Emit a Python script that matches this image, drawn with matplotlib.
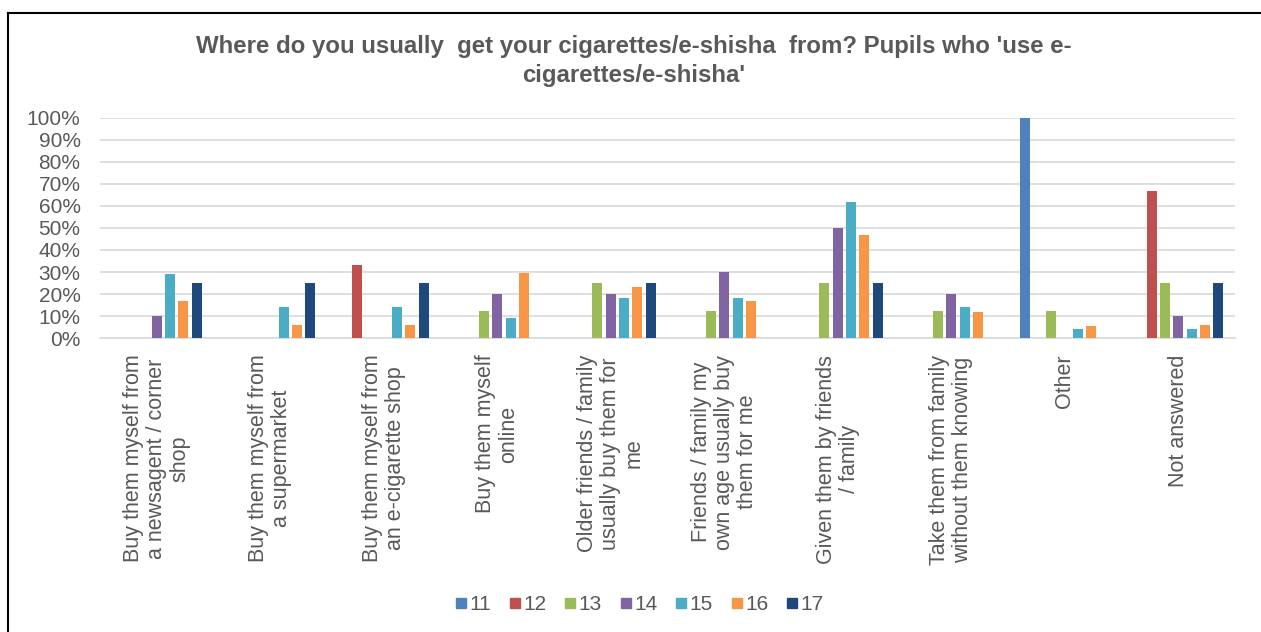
import numpy as np
import matplotlib.pyplot as plt
from matplotlib.lines import Line2D

plt.rcParams['font.family'] = ['Liberation Sans', 'DejaVu Sans']

categories = [
    'Buy them myself from\na newsagent / corner\nshop',
    'Buy them myself from\na supermarket',
    'Buy them myself from\nan e-cigarette shop',
    'Buy them myself\nonline',
    'Older friends / family\nusually buy them for\nme',
    'Friends / family my\nown age usually buy\nthem for me',
    'Given them by friends\n/ family',
    'Take them from family\nwithout them knowing',
    'Other',
    'Not answered',
]
ages = ['11', '12', '13', '14', '15', '16', '17']

age11 = [0, 0, 0, 0, 0, 0, 0, 0, 100, 0]
age12 = [0, 0, 33.3, 0, 0, 0, 0, 0, 0, 66.7]
age13 = [0, 0, 0, 12.5, 25, 12.5, 25, 12.5, 12.5, 25]
age14 = [10, 0, 0, 20, 20, 30, 50, 20, 0, 10]
age15 = [29, 14, 14, 9, 18, 18, 62, 14, 4, 4]
age16 = [17, 6, 6, 29.5, 23, 17, 47, 12, 5.5, 6]
age17 = [25, 25, 25, 0, 25, 0, 25, 0, 0, 25]
series = [age11, age12, age13, age14, age15, age16, age17]

colors = ['#4F81BD', '#C0504D', '#9BBB59', '#8064A2', '#4BACC6', '#F79646', '#1F497D']
text_col = '#595959'

fig = plt.figure(figsize=(12.61, 6.32), dpi=100)
ax = fig.add_axes([100 / 1261, 1 - 338 / 632, 1135 / 1261, 220 / 632])

x = np.arange(len(categories))
slot = 0.117
for i, (vals, c) in enumerate(zip(series, colors)):
    ax.bar(x + (i - 3) * slot, vals, width=0.088, color=c, zorder=3)

ax.set_xlim(-0.5, len(categories) - 0.5)
ax.set_ylim(0, 100)
ax.set_yticks(np.arange(0, 101, 10))
ax.set_yticklabels([f'{v}%' for v in range(0, 101, 10)], fontsize=15, color=text_col)
ax.yaxis.grid(True, color='#D9D9D9', linewidth=1.2, zorder=0)
ax.tick_params(axis='y', length=0, pad=14)
ax.set_xticks(x)
ax.set_xticklabels(categories, rotation=90, fontsize=15.5, color=text_col,
                   ha='center', va='top', multialignment='center', linespacing=1.12)
ax.tick_params(axis='x', length=0, pad=12)
for s in ['top', 'right', 'left']:
    ax.spines[s].set_visible(False)
ax.spines['bottom'].set_color('#D9D9D9')
ax.spines['bottom'].set_linewidth(1.2)

fig.text(634 / 1261, 1 - 61 / 632,
         "Where do you usually  get your cigarettes/e-shisha  from? Pupils who 'use e-\ncigarettes/e-shisha'",
         ha='center', va='center', fontsize=17.3, fontweight='bold', color=text_col,
         linespacing=1.3)

handles = [Line2D([], [], marker='s', linestyle='none', markersize=7.5, color=c) for c in colors]
fig.legend(handles, ages, loc='center', bbox_to_anchor=(638 / 1261, 1 - 605 / 632),
           ncol=7, frameon=False, fontsize=15, labelcolor=text_col,
           handletextpad=0.0, columnspacing=0.75, handlelength=0.8)

# outer frame (top and left edges visible in the reference)
fig.add_artist(Line2D([7.5 / 1261, 1], [1 - 12.5 / 632, 1 - 12.5 / 632], color='black', linewidth=1.5))
fig.add_artist(Line2D([7.5 / 1261, 7.5 / 1261], [0, 1 - 12.5 / 632], color='black', linewidth=1.5))

fig.savefig('out.png', dpi=100)
